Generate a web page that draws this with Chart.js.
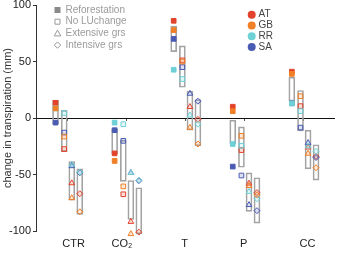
<!DOCTYPE html>
<html lang="en">
<head>
<meta charset="UTF-8">
<title>Change in transpiration</title>
<script src="https://cdn.jsdelivr.net/npm/chart.js"></script>
<style>
  html, body { margin: 0; padding: 0; background: #fff; }
  #wrap { width: 339px; height: 258px; position: relative; }
</style>
</head>
<body>
<div id="wrap"><canvas id="chart"></canvas></div>
<script>
// experiments, land-use managements and regions
const groups = ['CTR', 'CO₂', 'T', 'P', 'CC'];
const managements = ['Reforestation', 'No LUchange', 'Extensive grs', 'Intensive grs'];
const regions = ['AT', 'GB', 'RR', 'SA'];
const regionColors = ['#e3432c', '#f07f26', '#6fd0d6', '#4a5bb3'];

// change in transpiration (mm), one value per experiment (CTR, CO2, T, P, CC)
const atRefor = [13.4, -31.3, 86, 10, 41];
const atNoLU  = [-27.5, -67.5, 51, -28.4, 10.5];
const atExt   = [-57.6, -91.8, 9.9, -57.9, -26];
const atInt   = [-67, -101, -1.2, -66, -34];

const gbRefor = [8.5, -38, 77.8, 6, 39];
const gbNoLU  = [-16.4, -60.5, 50, -15.8, 19.3];
const gbExt   = [-70.8, -102.6, -8.5, -60, -31.5];
const gbInt   = [-83, -113, -23, -68, -44];

const rrRefor = [8.5, -4.1, 42.7, -23, 12.9];
const rrNoLU  = [4.4, -5.5, 34.5, -24.6, 6.1];
const rrExt   = [-41.2, -48.5, 2.4, -65.2, -25];
const rrInt   = [-48, -55, -5.5, -71.5, -29.5];

const saRefor = [-4.1, -10.8, 70, -43, 13];
const saNoLU  = [-12.9, -20.2, 45, -50.9, -8.5];
const saExt   = [-42.5, -48.5, 21.6, -76.9, -22];
const saInt   = [-48.5, -55.5, 14.9, -82, -35];

// range boxes per management
const boxTopRefor    = [15.8, -9.9, 81.3, -2, 36.2];
const boxBottomRefor = [-5.3, -31.8, 58.8, -23, 14.9];
const boxTopNoLU     = [6.8, -19.6, 63.8, -7.9, 24.3];
const boxBottomNoLU  = [-29.8, -56.1, 27.2, -43.6, -11.4];
const boxTopExt      = [-38.6, -55.3, 23.7, -48.5, -10.8];
const boxBottomExt   = [-72.8, -89.8, -10.8, -82.7, -45];
const boxTopInt      = [-45, -61.7, 16.4, -52.9, -23.7];
const boxBottomInt   = [-85.4, -102.6, -24.6, -93, -55];

const yTicks = [-100, -50, 0, 50, 100];

// layout helpers
const colOffset = [-0.205, -0.058, 0.07, 0.205];
const labelPos = [0.1, 0.92, 1.98, 2.98, 4.06];
const markerStyles = ['rect', 'rect', 'triangle', 'rectRot'];
const font = '"Liberation Sans", Arial, sans-serif';

const regionValues = [
  [atRefor, atNoLU, atExt, atInt],
  [gbRefor, gbNoLU, gbExt, gbInt],
  [rrRefor, rrNoLU, rrExt, rrInt],
  [saRefor, saNoLU, saExt, saInt]
];
const boxTops = [boxTopRefor, boxTopNoLU, boxTopExt, boxTopInt];
const boxBottoms = [boxBottomRefor, boxBottomNoLU, boxBottomExt, boxBottomInt];

const boxData = [];
boxTops.forEach((tops, m) => {
  tops.forEach((top, g) => {
    boxData.push({ x: g + colOffset[m], y: [boxBottoms[m][g], top] });
  });
});

// GB drawn on top, AT at the bottom
const drawOrder = [4, 1, 2, 3];

const pointSets = regions.map((name, r) => {
  const data = [];
  regionValues[r].forEach((vals, m) => {
    vals.forEach((v, g) => data.push({ x: g + colOffset[m], y: v, m: m }));
  });
  const col = regionColors[r];
  return {
    type: 'scatter',
    label: name,
    data: data,
    order: drawOrder[r],
    clip: false,
    showLine: false,
    pointStyle: ctx => markerStyles[ctx.raw.m],
    pointRadius: ctx => ctx.raw.m === 3 ? 3 : 3.3,
    pointBorderWidth: 1,
    pointBorderColor: col,
    pointBackgroundColor: ctx => ctx.raw.m === 0 ? col : col + '30'
  };
});

function drawMarker(ctx, m, x, y) {
  ctx.fillStyle = '#8a8a8a';
  ctx.strokeStyle = '#9a9a9a';
  ctx.lineWidth = 1;
  ctx.beginPath();
  if (m === 0) {
    ctx.fillRect(x - 3, y - 3, 6, 6);
    return;
  } else if (m === 1) {
    ctx.rect(x - 2.5, y - 2.5, 5, 5);
  } else if (m === 2) {
    ctx.moveTo(x, y - 3.3);
    ctx.lineTo(x + 3.3, y + 2.5);
    ctx.lineTo(x - 3.3, y + 2.5);
    ctx.closePath();
  } else {
    ctx.moveTo(x, y - 3.2);
    ctx.lineTo(x + 3.2, y);
    ctx.lineTo(x, y + 3.2);
    ctx.lineTo(x - 3.2, y);
    ctx.closePath();
  }
  ctx.stroke();
}

const cornerLegends = {
  id: 'cornerLegends',
  afterDraw(chart) {
    const ctx = chart.ctx;
    ctx.save();
    ctx.font = '10px ' + font;
    ctx.textBaseline = 'middle';
    managements.forEach((name, m) => {
      const y = 10 + m * 11.7;
      drawMarker(ctx, m, 57.5, y);
      ctx.fillStyle = '#9b9b9b';
      ctx.fillText(name, 65.5, y);
    });
    regions.forEach((name, r) => {
      const y = 14.7 + r * 10.8;
      ctx.fillStyle = regionColors[r];
      ctx.beginPath();
      ctx.arc(251.7, y, 4, 0, Math.PI * 2);
      ctx.fill();
      ctx.fillStyle = '#444';
      ctx.fillText(name, 258.5, y);
    });
    ctx.restore();
  }
};

Chart.defaults.font.family = font;

const xMin = -0.536, xMax = 4.509;

new Chart(document.getElementById('chart'), {
  type: 'bar',
  data: {
    datasets: [
      {
        type: 'bar',
        label: 'range',
        data: boxData,
        order: 10,
        clip: false,
        barThickness: 6,
        backgroundColor: 'rgba(255,255,255,0)',
        borderColor: '#a2a2a2',
        borderWidth: 1,
        borderSkipped: false
      },
      ...pointSets
    ]
  },
  options: {
    responsive: true,
    maintainAspectRatio: false,
    animation: false,
    layout: { padding: { top: 3, left: 0, right: 0, bottom: 0 } },
    plugins: { legend: { display: false }, tooltip: { enabled: false } },
    scales: {
      x: {
        type: 'linear',
        position: { y: 0 },
        min: xMin,
        max: xMax,
        offset: false,
        border: { display: true, color: '#111', width: 1 },
        grid: { drawOnChartArea: false, drawTicks: true, tickLength: 2, color: '#555' },
        ticks: { display: false },
        afterBuildTicks: s => { s.ticks = [0.5, 1.5, 2.5, 3.5, 4.5].map(v => ({ value: v })); },
        afterFit: s => { s.paddingLeft = 0; s.paddingRight = 0; }
      },
      x2: {
        type: 'linear',
        position: 'bottom',
        min: xMin,
        max: xMax,
        offset: false,
        border: { display: false },
        grid: { display: false, drawTicks: false },
        ticks: {
          autoSkip: false,
          maxRotation: 0,
          padding: 6,
          color: '#222',
          font: { size: 11 },
          callback: (v, i) => groups[i]
        },
        afterBuildTicks: s => { s.ticks = labelPos.map(v => ({ value: v })); },
        afterFit: s => { s.height = 27; s.paddingLeft = 0; s.paddingRight = 0; }
      },
      y: {
        min: -100,
        max: 100,
        border: { display: true, color: '#333', width: 1 },
        grid: { drawOnChartArea: false, tickLength: 3, color: '#333' },
        ticks: { padding: 2, color: '#222', font: { size: 11 } },
        afterBuildTicks: s => { s.ticks = yTicks.map(v => ({ value: v })); },
        title: {
          display: true,
          text: 'change in transpiration (mm)',
          color: '#333',
          font: { size: 11 },
          padding: { top: 1, bottom: 0 }
        },
        afterFit: s => { s.width = 36; s.paddingTop = 0; s.paddingBottom = 0; }
      }
    }
  },
  plugins: [cornerLegends]
});
</script>
</body>
</html>
